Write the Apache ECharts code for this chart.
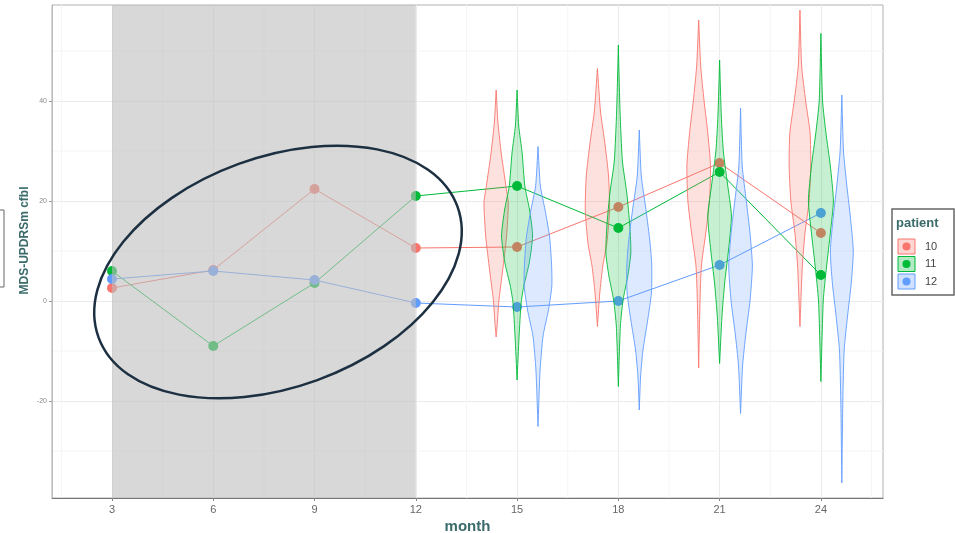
<!DOCTYPE html>
<html>
<head>
<meta charset="utf-8">
<script src="https://cdn.jsdelivr.net/npm/echarts@6/dist/echarts.min.js"></script>
<style>
  html, body { margin: 0; padding: 0; background: #fff; }
  #container { width: 955px; height: 533px; }
</style>
</head>
<body>
<div id="container"></div>
<script>
// values
var months = [3, 6, 9, 12, 15, 18, 21, 24];
var monthTicks = [3, 6, 9, 12, 15, 18, 21, 24];
var scoreTicks = [-20, 0, 20, 40];
var minorMonths = [1.5, 4.5, 7.5, 10.5, 13.5, 16.5, 19.5, 22.5, 25.5];
var minorScores = [-30, -10, 10, 30, 50];
var patients = ['10', '11', '12'];

var p10 = [2.6, 6.2, 22.4, 10.6, 10.8, 18.8, 27.6, 13.6];
var p11 = [6.0, -9.0, 3.6, 21.0, 23.0, 14.6, 25.8, 5.2];
var p12 = [4.4, 6.0, 4.2, -0.4, -1.2, 0.0, 7.2, 17.6];

// violin profiles: [score, half width in months], top to bottom
var violinMonths = [15, 18, 21, 24];
var violin10 = [
    [[42.2,0],[36,0.05],[29.6,0.15],[23,0.29],[19.6,0.36],[13,0.31],[6,0.19],[0,0.08],[-4,0.04],[-7.2,0]],
    [[46.5,0],[38,0.09],[31.6,0.22],[25,0.33],[18.2,0.36],[11.6,0.28],[7,0.16],[1.6,0.07],[-5.1,0]],
    [[56.2,0],[47,0.06],[40,0.16],[33.6,0.27],[27,0.35],[20,0.32],[13.6,0.21],[7,0.08],[0,0.04],[-13.4,0]],
    [[58.2,0],[47,0.05],[40,0.17],[33.6,0.3],[27,0.32],[20,0.27],[13.6,0.15],[7,0.07],[-5.1,0]]
];
var violin11 = [
    [[42.2,0],[35,0.05],[29.6,0.15],[23,0.23],[18.2,0.37],[13,0.46],[7.6,0.36],[3,0.2],[-0.4,0.12],[-7,0.06],[-15.8,0]],
    [[51.2,0],[38,0.05],[28,0.12],[21.6,0.25],[15,0.34],[9.6,0.37],[5,0.28],[0.2,0.14],[-5,0.06],[-17.1,0]],
    [[48.2,0],[37,0.05],[30,0.11],[23.6,0.23],[17,0.35],[10,0.26],[3.6,0.15],[-3,0.07],[-12.5,0]],
    [[53.5,0],[40,0.05],[33.6,0.15],[27,0.28],[20,0.37],[13.6,0.28],[7,0.17],[0,0.07],[-16.1,0]]
];
var violin12 = [
    [[30.9,0],[23,0.07],[18.2,0.21],[13,0.34],[7.6,0.4],[3,0.41],[-1.8,0.31],[-7,0.15],[-14,0.06],[-25.1,0]],
    [[34.2,0],[25,0.06],[18.2,0.2],[11.6,0.32],[7,0.37],[1.6,0.36],[-3.8,0.25],[-9.8,0.11],[-15,0.04],[-21.8,0]],
    [[38.6,0],[27,0.05],[20,0.17],[13.6,0.28],[7,0.35],[0,0.28],[-6.4,0.16],[-13,0.06],[-22.5,0]],
    [[41.2,0],[30,0.05],[23.6,0.14],[17,0.25],[10,0.34],[3.6,0.28],[-3,0.17],[-9.8,0.07],[-20,0.03],[-36.4,0]]
];
var shadedRange = [3, 12];

var yMin = -39.4, yMax = 59.2;
var colors = ['#F8766D', '#00BA38', '#619CFF'];
var dodge = [-0.62, 0, 0.62];
var teal = '#3b6b6b';
var font = 'Liberation Sans, Arial, sans-serif';

function rgba(hex, a) {
    var n = parseInt(hex.slice(1), 16);
    return 'rgba(' + (n >> 16) + ',' + ((n >> 8) & 255) + ',' + (n & 255) + ',' + a + ')';
}

var dom = document.getElementById('container');
var chart = echarts.init(dom);

var lineData = [p10, p11, p12];
var violins = [violin10, violin11, violin12];
var series = [];

// minor grid lines, under everything
series.push({
    type: 'custom', z: 0, silent: true,
    data: minorMonths.map(function (v) { return [v, 0]; }).concat(minorScores.map(function (v) { return [v, 1]; })),
    renderItem: function (params, api) {
        var v = api.value(0), a, b;
        if (api.value(1) === 0) { a = api.coord([v, yMax]); b = api.coord([v, yMin]); }
        else { a = api.coord([1.223, v]); b = api.coord([25.84, v]); }
        return { type: 'line', shape: { x1: a[0], y1: a[1], x2: b[0], y2: b[1] },
                 style: { stroke: '#f5f5f5', lineWidth: 1 } };
    }
});

lineData.forEach(function (vals, i) {
    series.push({
        name: patients[i],
        type: 'line',
        z: 2,
        data: months.map(function (m, k) { return [m, vals[k]]; }),
        symbol: 'circle',
        symbolSize: 10,
        lineStyle: { color: colors[i], width: 1 },
        itemStyle: { color: colors[i] },
        emphasis: { disabled: true }
    });
});

// grey shaded window drawn over the early lines
series.push({
    type: 'custom',
    z: 3,
    silent: true,
    data: [[shadedRange[0], shadedRange[1]]],
    renderItem: function (params, api) {
        var p0 = api.coord([api.value(0), yMax]);
        var p1 = api.coord([api.value(1), yMin]);
        return {
            type: 'rect',
            shape: { x: p0[0], y: p0[1], width: p1[0] - p0[0], height: p1[1] - p0[1] },
            style: { fill: 'rgba(190,190,190,0.6)' }
        };
    }
});

violins.forEach(function (profiles, i) {
    series.push({
        name: patients[i],
        type: 'custom',
        z: 4,
        silent: true,
        data: violinMonths.map(function (m, k) { return [m, k]; }),
        encode: { x: 0 },
        renderItem: function (params, api) {
            var c = api.value(0) + dodge[i];
            var prof = profiles[api.value(1)];
            var pts = [];
            prof.forEach(function (p) { pts.push(api.coord([c + p[1], p[0]])); });
            for (var j = prof.length - 1; j >= 0; j--) {
                pts.push(api.coord([c - prof[j][1], prof[j][0]]));
            }
            return {
                type: 'polygon',
                shape: { points: pts, smooth: 0.2 },
                style: { fill: rgba(colors[i], 0.22), stroke: colors[i], lineWidth: 0.9 }
            };
        }
    });
});

// legend drawn by hand, ggplot style
var legendItems = [
    { type: 'rect', shape: { x: 892, y: 209, width: 62, height: 86 },
      style: { fill: '#fff', stroke: '#666', lineWidth: 1.5 } },
    { type: 'text', x: 896, y: 223,
      style: { text: 'patient', font: 'bold 13px ' + font, fill: teal, textVerticalAlign: 'middle' } }
];
patients.forEach(function (p, i) {
    var y = 239 + i * 17.5;
    legendItems.push({ type: 'rect', shape: { x: 898, y: y, width: 17, height: 15 },
        style: { fill: rgba(colors[i], 0.3), stroke: colors[i], lineWidth: 1 } });
    legendItems.push({ type: 'circle', shape: { cx: 906.5, cy: y + 7.5, r: 4 },
        style: { fill: colors[i] } });
    legendItems.push({ type: 'text', x: 925, y: y + 7.5,
        style: { text: p, font: '11px ' + font, fill: '#444', textVerticalAlign: 'middle' } });
});

chart.setOption({
    animation: false,
    backgroundColor: '#fff',
    grid: { left: 52, right: 72, top: 5, bottom: 35, outerBoundsMode: 'none',
            show: true, borderColor: '#b0b0b0', borderWidth: 1 },
    xAxis: {
        type: 'value', min: 1.223, max: 25.84,
        name: 'month', nameLocation: 'middle', nameGap: 21, nameMoveOverlap: false,
        nameTextStyle: { color: teal, fontWeight: 'bold', fontSize: 15, fontFamily: font },
        axisLine: { onZero: false, lineStyle: { color: '#777', width: 1 } },
        axisTick: { show: true, customValues: monthTicks, length: 3, lineStyle: { color: '#888' } },
        axisLabel: { customValues: monthTicks, color: '#666', fontSize: 11, fontFamily: font, margin: 6 },
        splitLine: { show: true, lineStyle: { color: '#ebebeb', width: 1 } }
    },
    yAxis: {
        type: 'value', min: yMin, max: yMax,
        name: 'MDS-UPDRSm cfbl', nameLocation: 'middle', nameGap: 21, nameMoveOverlap: false,
        nameTextStyle: { color: teal, fontWeight: 'bold', fontSize: 12, fontFamily: font, padding: [0, 0, 0, 22] },
        axisLine: { show: true, onZero: false, lineStyle: { color: '#bbb', width: 1 } },
        axisTick: { show: true, customValues: scoreTicks, length: 3, lineStyle: { color: '#999' } },
        axisLabel: { customValues: scoreTicks, color: '#888', fontSize: 7, fontFamily: font, margin: 5 },
        splitLine: { show: true, lineStyle: { color: '#ebebeb', width: 1 } }
    },
    series: series,
    graphic: [
        { type: 'group', children: legendItems },
        { type: 'ellipse', x: 278, y: 272, rotation: 20 * Math.PI / 180,
          shape: { cx: 0, cy: 0, rx: 191, ry: 115 },
          style: { fill: 'none', stroke: '#1c3042', lineWidth: 2.5 }, z: 100 },
        { type: 'rect', shape: { x: -2, y: 210, width: 6, height: 77 },
          style: { fill: 'none', stroke: '#666', lineWidth: 1 } }
    ]
});
</script>
</body>
</html>
